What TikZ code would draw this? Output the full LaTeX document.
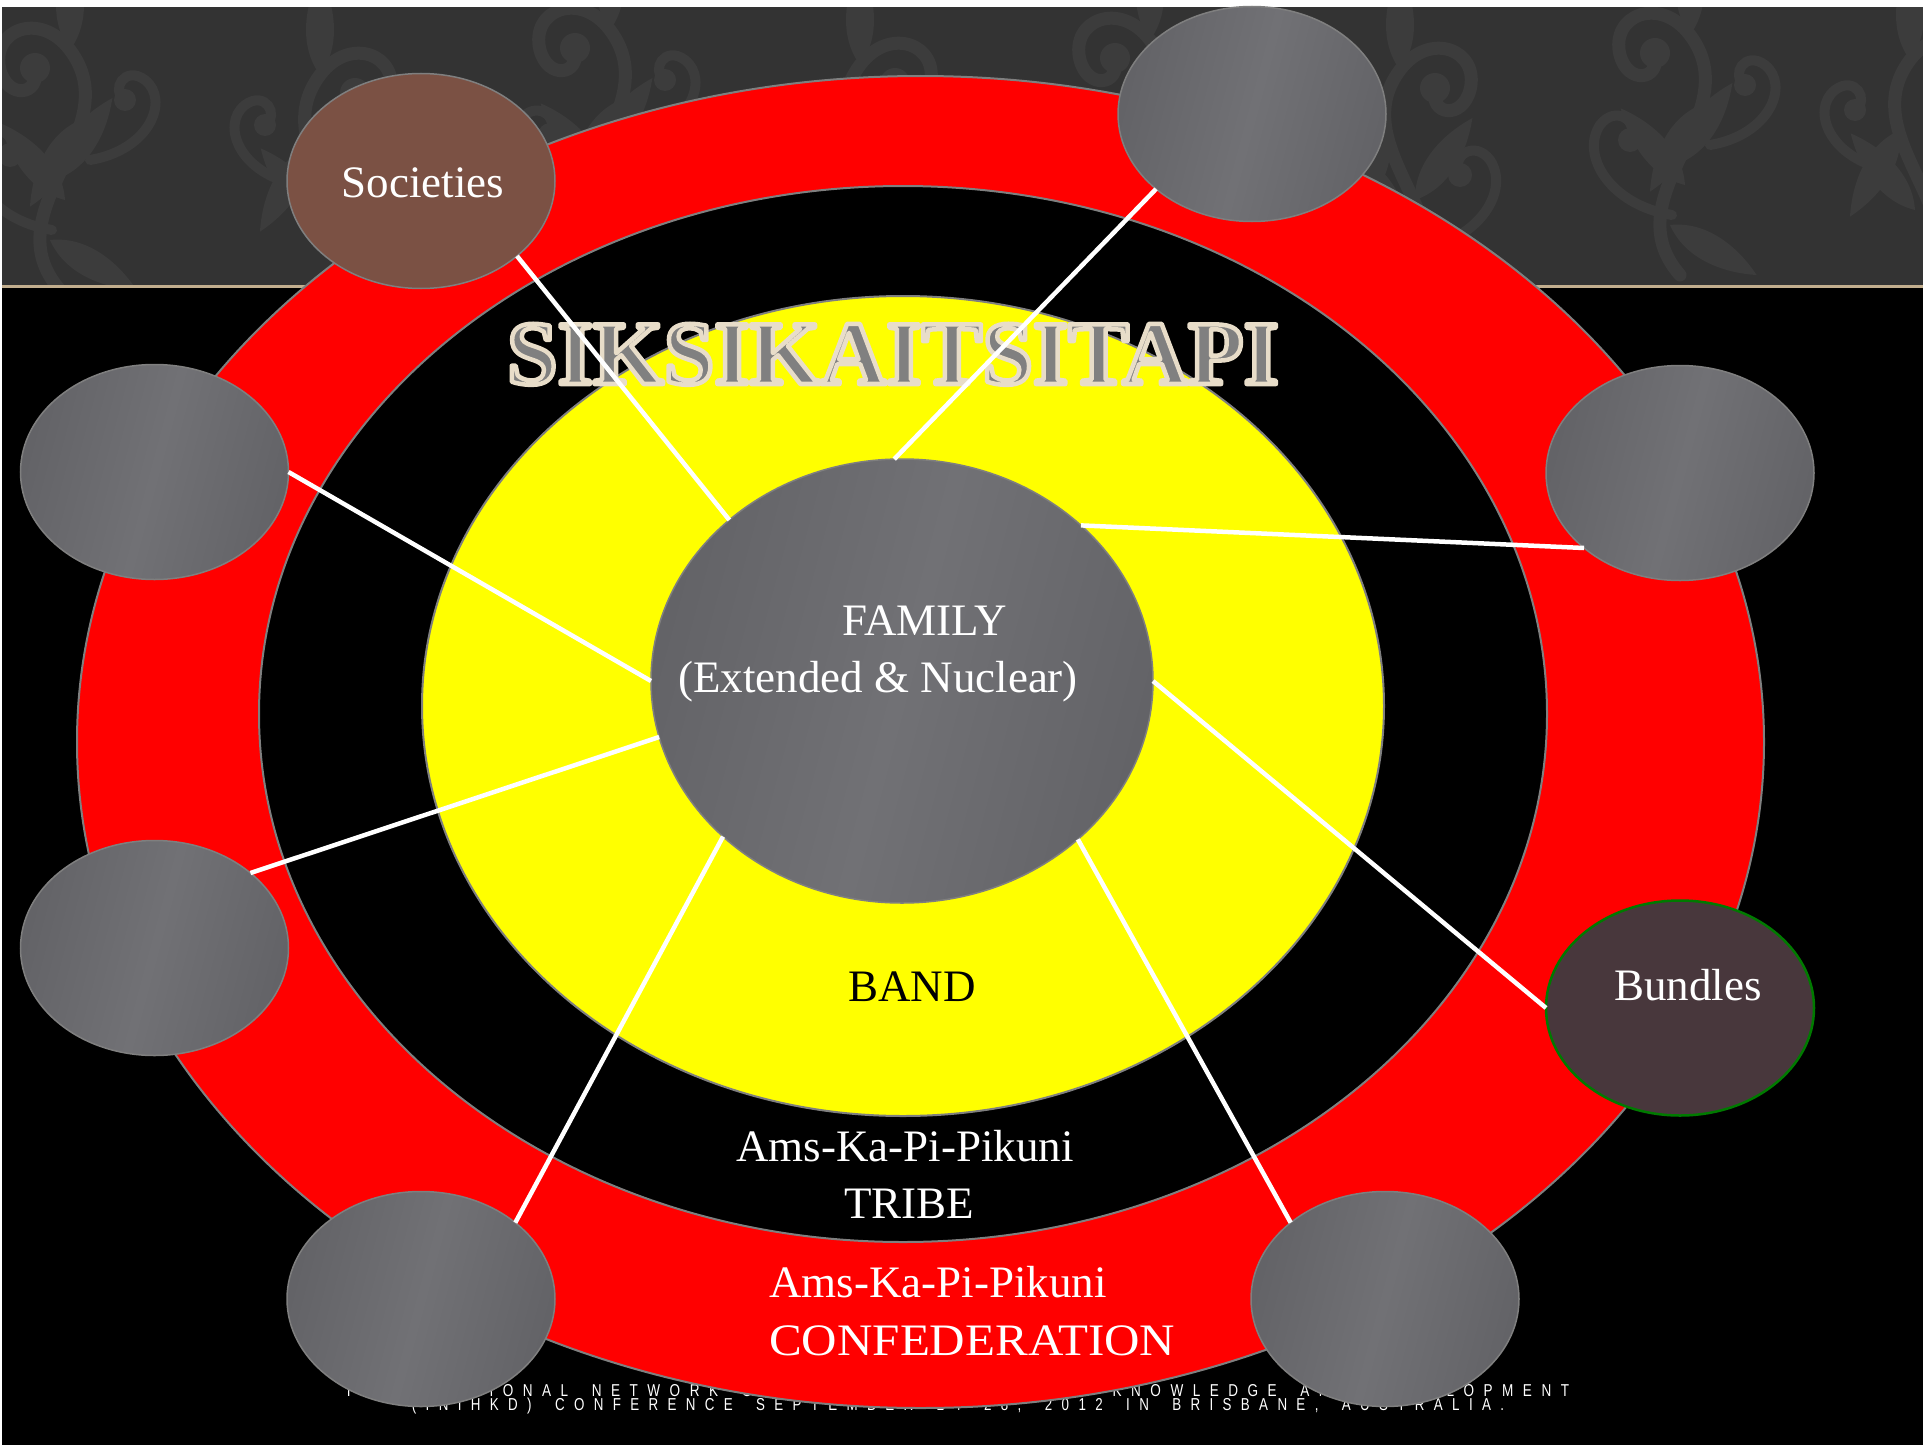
\documentclass[tikz,border=0pt]{standalone}
\usepackage{fontspec}
\usepackage{graphicx}
\setmainfont{Liberation Serif}
\newfontfamily\footfont[LetterSpace=70,WordSpace=1.8]{Liberation Sans}
\usetikzlibrary{shapes.geometric,calc}
\definecolor{hdr}{HTML}{333333}
\definecolor{hdrpat}{HTML}{3C3C3C}
\definecolor{tanline}{HTML}{C2AE8E}
\definecolor{ringred}{HTML}{FF0000}
\definecolor{ringyel}{HTML}{FFFF00}
\definecolor{edge}{HTML}{7F7F7F}
\definecolor{gdark}{HTML}{636367}
\definecolor{glight}{HTML}{717175}
\definecolor{soc}{HTML}{7B5144}
\definecolor{bun}{HTML}{48373C}
\definecolor{bunedge}{HTML}{007A00}
\definecolor{titlegray}{HTML}{808080}
\tikzset{
  gshade/.style={left color=gdark, right color=gdark, middle color=glight, shading angle=75},
  satbase/.style={ellipse, minimum width=268, minimum height=215, inner sep=0, outer sep=0, draw=edge, line width=1.5},
  sat/.style={satbase, gshade},
  conn/.style={draw=white, line width=4.5},
  lbl/.style={font=\fontsize{45}{54}\selectfont, text=white, inner sep=0},
  ttl/.style={font=\bfseries\fontsize{91}{100}\selectfont, inner sep=0, anchor=base},
  foot/.style={text=white, inner sep=0},
  leaf/.pic={\fill[hdrpat] (0,0) .. controls (22,-30) and (15,-70) .. (0,-100) .. controls (-15,-70) and (-22,-30) .. (0,0);},
  damask/.pic={
    \draw[hdrpat, line width=13, line cap=round] (0,150) .. controls (-70,70) and (70,-10) .. (10,-90) .. controls (-20,-130) and (-70,-110) .. (-60,-70) .. controls (-52,-40) and (-20,-45) .. (-25,-70);
    \fill[hdrpat] (-25,-72) circle (15);
    \pic[rotate=40] at (5,60) {leaf};
    \pic[rotate=-35] at (-5,40) {leaf};
    \pic[rotate=150] at (20,-20) {leaf};
    \pic[rotate=-120] at (-10,100) {leaf};
    \pic at (10,-90) {leaf};
    \draw[hdrpat, line width=10, line cap=round] (-8,90) .. controls (-70,80) and (-100,30) .. (-80,0) .. controls (-65,-20) and (-40,-5) .. (-50,15);
    \fill[hdrpat] (-50,15) circle (12);
    \draw[hdrpat, line width=10, line cap=round] (30,20) .. controls (90,10) and (110,-40) .. (85,-60) .. controls (65,-75) and (50,-50) .. (65,-40);
    \fill[hdrpat] (65,-40) circle (11);
  }
}
\begin{document}
\begin{tikzpicture}[x=1pt,y=-1pt]
\useasboundingbox (0,0) rectangle (1923,1445);
% background
\fill[black] (0,0) rectangle (1923,1445);
\fill[hdr] (2,7) rectangle (1923,285);
\begin{scope}
  \clip (2,7) rectangle (1923,285);
  \foreach \px/\py/\s in {60/140/1, 330/165/-1, 600/120/1, 870/155/-1, 1140/130/1, 1410/160/-1, 1680/125/1, 1920/150/-1}
    \pic[xscale=\s] at (\px,\py) {damask};
\end{scope}
\fill[white] (0,0) rectangle (1923,7);
\fill[white] (0,0) rectangle (2,1445);
\fill[tanline] (2,285) rectangle (1923,288);
% footer
\node[foot] (foot1) at (958,1391) {\resizebox{1222pt}{12pt}{\footfont INTERNATIONAL NETWORK OF INDIGENOUS HEALTH KNOWLEDGE AND DEVELOPMENT}};
\node[foot] (foot2) at (958,1406) {\resizebox{1092pt}{12.5pt}{\footfont (INIHKD) CONFERENCE SEPTEMBER 24-28, 2012 IN BRISBANE, AUSTRALIA.}};
% rings
\draw[edge, line width=2, fill=ringred] (920.5,742) ellipse [x radius=843.5, y radius=666];
\draw[edge, line width=2, fill=black] (903,714) ellipse [x radius=644, y radius=528];
\draw[edge, line width=2, fill=ringyel] (903,706) ellipse [x radius=481, y radius=410];
% center
\node[ellipse, minimum width=502, minimum height=444, inner sep=0, outer sep=0, draw=edge, line width=1.5, gshade] (fam) at (902,681) {};
% title (gray fill, cream outline)
\node[ttl, text=titlegray] (title) at (893,384) {\special{pdf:literal direct 0.91 0.867 0.788 RG 4.5 w 1 j 2 Tr}SIKSIKAITSITAPI\special{pdf:literal direct 0 Tr}};
% satellites
\node[satbase, fill=soc] (s1) at (421,181) {};
\node[sat] (s2) at (1252,114) {};
\node[sat] (s3) at (1680,473) {};
\node[sat] (s4) at (154.5,472) {};
\node[sat] (s5) at (154.5,948) {};
\node[sat] (s6) at (421,1299) {};
\node[sat] (s7) at (1385,1299) {};
\node[satbase, fill=bun, draw=bunedge, line width=2.5] (s8) at (1680,1008) {};
% connectors
\draw[conn] (fam.137.9) -- (s1.-38.2);
\draw[conn] (fam.92) -- (s2.218.2);
\draw[conn] (fam.41.6) -- (s3.218.8);
\draw[conn] (fam.180) -- (s4.0);
\draw[conn] (fam.193) -- (s5.38.4);
\draw[conn] (fam.221.4) -- (s6.39);
\draw[conn] (fam.-42.3) -- (s7.141);
\draw[conn] (fam.0) -- (s8.180);
% labels
\node[lbl, anchor=base] (socl) at (423,197) {Societies};
\node[lbl, anchor=base] (bunl) at (1688,1000) {Bundles};
\node[lbl, anchor=base] (faml) at (925,635) {FAMILY};
\node[lbl, anchor=base] (extl) at (878,692) {(Extended \& Nuclear)};
\node[lbl, anchor=base, text=black] (bandl) at (912,1001) {BAND};
\node[lbl, anchor=base] (tribe1) at (905,1161) {Ams-Ka-Pi-Pikuni};
\node[lbl, anchor=base] (tribe2) at (909,1218) {TRIBE};
\node[lbl, anchor=base west] (conf1) at (769,1297) {Ams-Ka-Pi-Pikuni};
\node[lbl, anchor=base west] (conf2) at (769,1355) {\scalebox{1.09}[1]{CONFEDERATION}};
\end{tikzpicture}
\end{document}
